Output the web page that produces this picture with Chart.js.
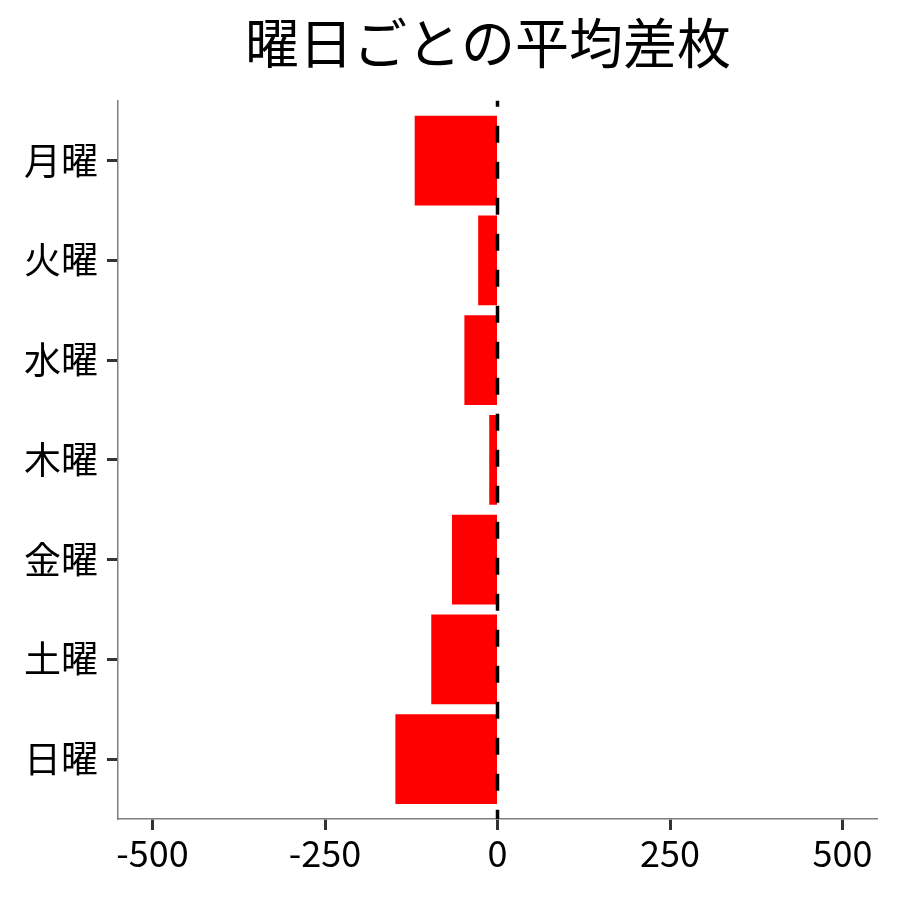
<!DOCTYPE html>
<html>
<head>
<meta charset="utf-8">
<script src="https://cdn.jsdelivr.net/npm/chart.js@4/dist/chart.umd.min.js"></script>
<style>
  html, body { margin: 0; padding: 0; background: #fff; }
  #wrap { width: 900px; height: 900px; }
</style>
</head>
<body>
<div id="wrap"><canvas id="chart"></canvas></div>
<script>
// data
const titleText = '曜日ごとの平均差枚';
const days = ['月曜', '火曜', '水曜', '木曜', '金曜', '土曜', '日曜'];
const avgDiff = [-120, -28, -48, -12, -66, -96, -148];
const xTicks = [-500, -250, 0, 250, 500];
const refLine = 0;

const FONT = '"Noto Sans CJK JP", "Noto Sans", sans-serif';

// dashed line at the reference value, drawn over the bars
const refLinePlugin = {
  id: 'refLine',
  afterLayout(chart) {
    // reference title sits a little left of the panel centre
    chart.titleBlock.right -= 19;
  },
  afterDatasetsDraw(chart) {
    const x = chart.scales.x.getPixelForValue(refLine);
    const area = chart.chartArea;
    const ctx = chart.ctx;
    ctx.save();
    ctx.strokeStyle = '#000';
    ctx.lineWidth = 3.5;
    ctx.setLineDash([17, 19]);
    ctx.lineDashOffset = 11;
    ctx.beginPath();
    ctx.moveTo(x, area.top);
    ctx.lineTo(x, area.bottom);
    ctx.stroke();
    ctx.restore();
  }
};

const ctx = document.getElementById('chart').getContext('2d');
new Chart(ctx, {
  type: 'bar',
  data: {
    datasets: [{
      data: avgDiff.map((v, i) => ({ x: v, y: i })),
      backgroundColor: '#ff0000',
      borderWidth: 0,
      barPercentage: 0.9,
      categoryPercentage: 1.0
    }]
  },
  options: {
    indexAxis: 'y',
    responsive: true,
    maintainAspectRatio: false,
    animation: false,
    layout: { padding: { left: 0, right: 23, top: 0, bottom: 0 } },
    plugins: {
      legend: { display: false },
      tooltip: { enabled: false },
      title: {
        display: true,
        text: titleText,
        fullSize: false,
        color: '#000',
        font: { family: FONT, size: 54, weight: 'normal' },
        padding: { top: 11, bottom: 25 }
      }
    },
    scales: {
      x: {
        type: 'linear',
        min: -550,
        max: 550,
        afterBuildTicks: s => { s.ticks = xTicks.map(v => ({ value: v })); },
        afterFit: s => { s.height = 81; },
        grid: { drawOnChartArea: false, tickLength: 11, tickWidth: 3, tickColor: '#333' },
        border: { color: '#7f7f7f', width: 1.5 },
        ticks: { color: '#000', padding: 2, font: { family: FONT, size: 36 } }
      },
      y: {
        type: 'linear',
        reverse: true,
        offset: false,
        min: -0.6,
        max: days.length - 0.4,
        afterBuildTicks: s => { s.ticks = days.map((d, i) => ({ value: i })); },
        afterFit: s => { s.width = 118; },
        grid: { offset: false, drawOnChartArea: false, tickLength: 11, tickWidth: 3, tickColor: '#333' },
        border: { color: '#7f7f7f', width: 1.5 },
        ticks: {
          color: '#000',
          padding: 9,
          font: { family: FONT, size: 37 },
          callback: v => days[v]
        }
      }
    }
  },
  plugins: [refLinePlugin]
});
</script>
</body>
</html>
